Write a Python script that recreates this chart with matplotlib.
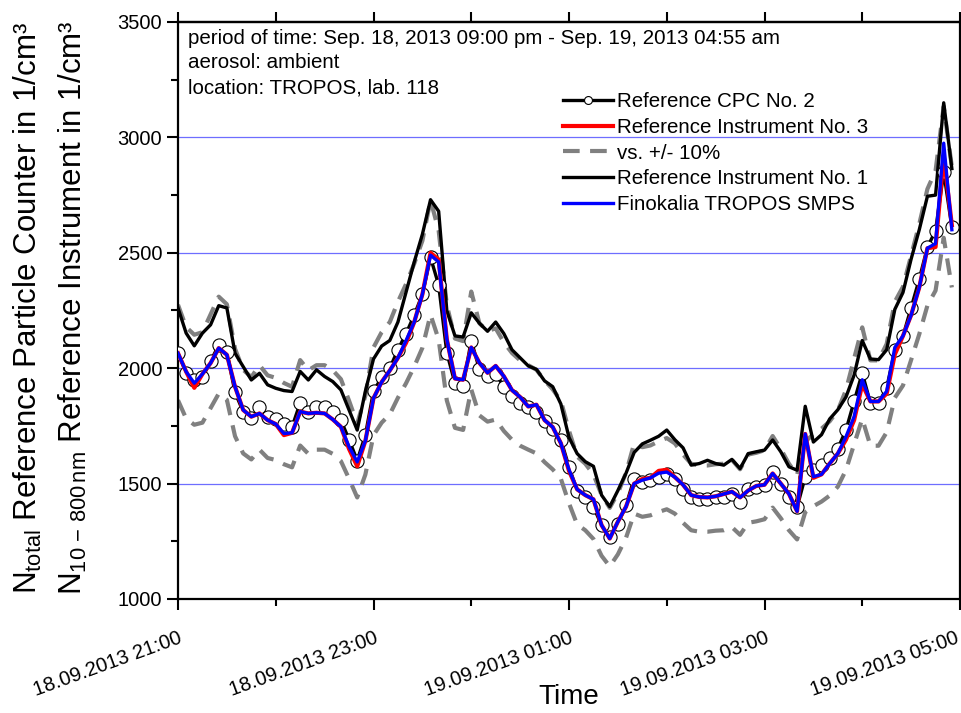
import matplotlib

matplotlib.use("Agg")
import matplotlib.dates as mdates
import matplotlib.pyplot as plt
import matplotlib.transforms as mtransforms
import numpy as np
import pandas as pd
from matplotlib.ticker import MultipleLocator

# 5-minute samples, 18.09.2013 21:00 - 19.09.2013 04:55
times = pd.date_range("2013-09-18 21:00", periods=96, freq="5min")

smps = [
    2065, 1985, 1935, 1975, 2022, 2087, 2058, 1920, 1819, 1790,
    1804, 1775, 1758, 1717, 1720, 1812, 1804, 1807, 1804, 1778,
    1746, 1660, 1594, 1685, 1870, 1940, 1990, 2045, 2120, 2200,
    2320, 2490, 2460, 2125, 1955, 1950, 2090, 2023, 1980, 2010,
    1965, 1905, 1875, 1834, 1842, 1775, 1745, 1675, 1560, 1475,
    1450, 1432, 1320, 1262, 1335, 1400, 1500, 1515, 1525, 1545,
    1550, 1528, 1495, 1450, 1442, 1440, 1445, 1455, 1465, 1440,
    1470, 1490, 1495, 1544, 1500, 1456, 1380, 1715, 1530, 1540,
    1587, 1630, 1703, 1790, 1950, 1856, 1856, 1900, 2090, 2140,
    2230, 2350, 2520, 2540, 2975, 2600,
]
instrument_3 = list(smps)
for idx, val in {2: 1915, 13: 1710, 21: 1650, 22: 1575, 28: 2110, 31: 2500,
                 32: 2470, 48: 1555, 57: 1520, 59: 1555, 60: 1560, 78: 1525,
                 82: 1690, 83: 1775, 84: 1930, 87: 1890, 88: 2060, 93: 2525,
                 94: 2920, 95: 2620}.items():
    instrument_3[idx] = val

cpc_2 = [
    2068, 1980, 1950, 1960, 2030, 2100, 2070, 1895, 1812, 1783,
    1830, 1790, 1780, 1760, 1745, 1850, 1810, 1830, 1830, 1810,
    1775, 1690, 1600, 1710, 1900, 1960, 2000, 2080, 2150, 2230,
    2320, 2480, 2360, 2067, 1935, 1925, 2120, 1995, 1965, 1975,
    1920, 1878, 1849, 1830, 1812, 1770, 1735, 1690, 1572, 1470,
    1442, 1400, 1319, 1268, 1326, 1406, 1522, 1507, 1514, 1530,
    1543, 1522, 1478, 1442, 1435, 1435, 1440, 1442, 1457, 1420,
    1478, 1485, 1495, 1551, 1500, 1442, 1398, 1529, 1558, 1580,
    1609, 1652, 1732, 1856, 1979, 1849, 1849, 1914, 2080, 2139,
    2262, 2386, 2524, 2596, 2850, 2611,
]

instrument_1 = [
    2261, 2152, 2097, 2152, 2188, 2271, 2261, 2065, 2007, 1949,
    1978, 1928, 1913, 1903, 1899, 1986, 1949, 1993, 1964, 1942,
    1906, 1819, 1732, 1900, 2040, 2096, 2120, 2200, 2330, 2460,
    2580, 2730, 2680, 2250, 2140, 2135, 2240, 2195, 2160, 2200,
    2150, 2080, 2045, 2010, 1995, 1945, 1920, 1845, 1700, 1630,
    1595, 1575, 1450, 1400, 1470, 1545, 1635, 1672, 1688, 1705,
    1732, 1690, 1655, 1580, 1587, 1601, 1587, 1580, 1605, 1565,
    1630, 1638, 1645, 1689, 1638, 1573, 1558, 1835, 1680, 1712,
    1780, 1820, 1875, 1970, 2120, 2040, 2037, 2080, 2255, 2328,
    2473, 2600, 2745, 2750, 3150, 2865,
]

# +/- 10 % band around the reference CPC
cpc_arr = np.array(cpc_2, dtype=float)
band_hi = cpc_arr * 1.1
band_lo = cpc_arr * 0.9

plt.rcParams["font.family"] = ["Liberation Sans", "DejaVu Sans"]
plt.rcParams["mathtext.fontset"] = "custom"
plt.rcParams["mathtext.rm"] = "Liberation Sans"
plt.rcParams["mathtext.it"] = "Liberation Sans:italic"

fig = plt.figure(figsize=(9.62, 7.13), dpi=100)
ax = fig.add_axes([178 / 962, 1 - 599 / 713, 782 / 962, 577 / 713])

for yv in (1500, 2000, 2500, 3000):
    ax.axhline(yv, color="#6e6eff", linewidth=0.9, zorder=1)

gray_kw = dict(color="#808080", linewidth=3.0, dashes=(4, 2.5), zorder=2)
ax.plot(times, band_hi, label="vs. +/- 10%", **gray_kw)
ax.plot(times, band_lo, **gray_kw)
ax.plot(times, instrument_1, color="black", linewidth=2.4, zorder=3,
        label="Reference Instrument No. 1")
ax.plot(times, cpc_2, color="black", linewidth=2.4, marker="o", markersize=9.5,
        markerfacecolor="white", markeredgecolor="black", markeredgewidth=0.8,
        zorder=4, label="Reference CPC No. 2")
ax.plot(times, instrument_3, color="#ff0000", linewidth=3.0, zorder=5,
        label="Reference Instrument No. 3")
ax.plot(times, smps, color="#0000ff", linewidth=2.4, zorder=6,
        label="Finokalia TROPOS SMPS")

ax.set_xlim(pd.Timestamp("2013-09-18 21:00"), pd.Timestamp("2013-09-19 05:00"))
ax.set_ylim(1000, 3500)
ax.yaxis.set_major_locator(MultipleLocator(500))
ax.yaxis.set_minor_locator(MultipleLocator(250))
ax.xaxis.set_major_locator(mdates.HourLocator(byhour=[21, 23, 1, 3, 5]))
ax.xaxis.set_minor_locator(mdates.HourLocator())
ax.xaxis.set_major_formatter(mdates.DateFormatter("%d.%m.%Y %H:%M"))

for side in ax.spines.values():
    side.set_linewidth(1.6)
ax.tick_params(which="major", direction="out", length=8, width=1.5,
               labelsize=14.5, top=False)
ax.tick_params(which="minor", direction="out", length=5, width=1.5, top=False)
plt.setp(ax.get_xticklabels(), rotation=20, ha="right", va="top",
         rotation_mode="anchor")
ax.tick_params(axis="x", which="major", pad=13)

# keep the last date label inside the canvas
fig.canvas.draw()
last_label = ax.get_xticklabels()[-1]
last_label.set_transform(last_label.get_transform()
                         + mtransforms.ScaledTranslation(-5 / 100, 0, fig.dpi_scale_trans))

top = ax.secondary_xaxis("top")
top.xaxis.set_major_locator(mdates.HourLocator())
top.tick_params(direction="out", length=7, width=1.5, labeltop=False)
top.spines["top"].set_linewidth(1.6)

ax.set_xlabel("Time", fontsize=20, labelpad=-11)
fig.text(28 / 962, 1 - 308 / 713,
         r"N$_\mathrm{total}$ Reference Particle Counter in 1/cm³",
         rotation=90, ha="center", va="center", fontsize=22.5)
fig.text(73 / 962, 1 - 308 / 713,
         r"N$_\mathrm{10\,-\,800\,nm}$ Reference Instrument in 1/cm³",
         rotation=90, ha="center", va="center", fontsize=22.5)

info = ["period of time: Sep. 18, 2013 09:00 pm - Sep. 19, 2013 04:55 am",
        "aerosol: ambient",
        "location: TROPOS, lab. 118"]
for k, line in enumerate(info):
    fig.text(188 / 962, 1 - (38 + 25 * k) / 713, line, fontsize=14.8,
             ha="left", va="center")

handles, labels = ax.get_legend_handles_labels()
order = ["Reference CPC No. 2", "Reference Instrument No. 3", "vs. +/- 10%",
         "Reference Instrument No. 1", "Finokalia TROPOS SMPS"]
hmap = dict(zip(labels, handles))
leg = ax.legend([hmap[o] for o in order], order, loc="upper left",
                bbox_to_anchor=(563 / 962, 1 - 92 / 713),
                bbox_transform=fig.transFigure, frameon=False, fontsize=14.8,
                handlelength=2.45, handletextpad=0.2, labelspacing=0.33,
                borderpad=0, borderaxespad=0, markerscale=0.6)

fig.savefig("out.png", dpi=100)
